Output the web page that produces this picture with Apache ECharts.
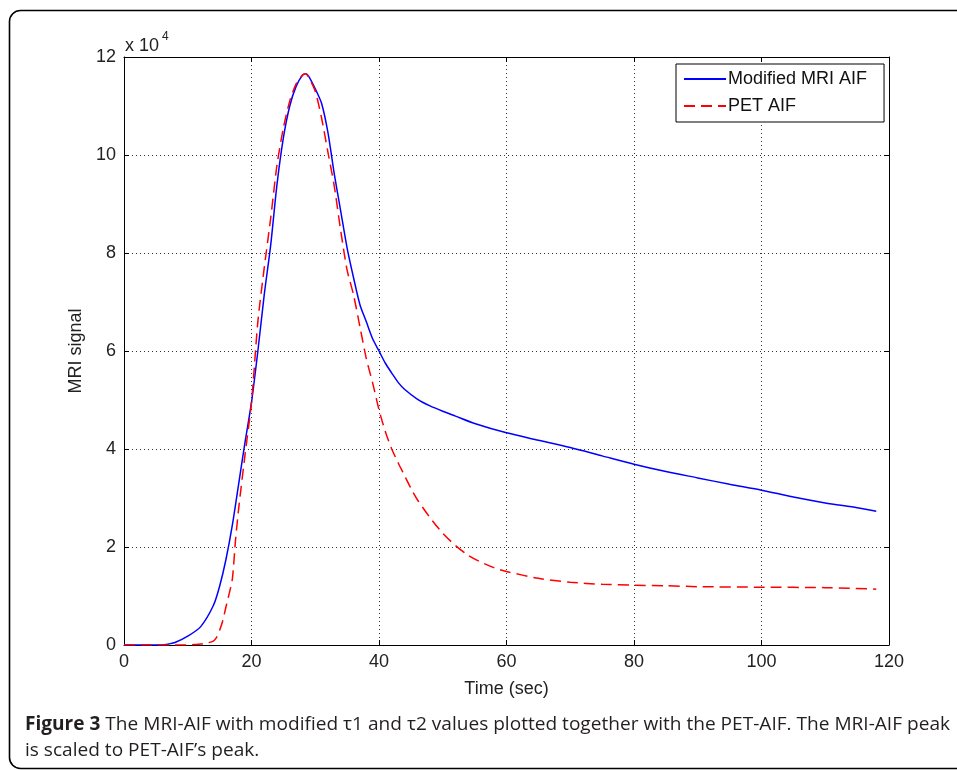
<!DOCTYPE html>
<html>
<head>
<meta charset="utf-8">
<script src="https://cdn.jsdelivr.net/npm/echarts@6/dist/echarts.min.js"></script>
<style>
  html, body { margin: 0; padding: 0; background: #fff; }
  #chart { width: 957px; height: 770px; }
</style>
</head>
<body>
<div id="chart"></div>
<script>
// Modified MRI arterial input function (signal in units of 10^4)
const mriTime = [0, 2, 4, 6, 7, 8, 10, 12, 14, 15, 16, 17, 18, 19, 20, 21, 22, 23, 24, 25, 26, 27, 28, 28.5, 29, 30, 31, 32, 33, 34, 35, 36, 37, 38, 39, 40, 41, 42, 43, 44, 46, 48, 50, 52, 55, 60, 65, 70, 75, 80, 85, 90, 95, 100, 105, 110, 115, 118];
const mriSignal = [0, 0, 0, 0, 0.02, 0.05, 0.18, 0.37, 0.8, 1.2, 1.75, 2.45, 3.3, 4.15, 4.95, 6.0, 7.15, 8.15, 9.4, 10.35, 11.0, 11.4, 11.63, 11.66, 11.6, 11.35, 11.05, 10.45, 9.6, 8.85, 8.1, 7.5, 6.95, 6.6, 6.25, 6.0, 5.75, 5.55, 5.36, 5.22, 5.02, 4.88, 4.77, 4.67, 4.52, 4.33, 4.18, 4.03, 3.86, 3.69, 3.54, 3.41, 3.28, 3.16, 3.02, 2.9, 2.8, 2.73];

// PET arterial input function (signal in units of 10^4)
const petTime = [0, 2, 4, 6, 8, 10, 11, 12, 13, 14, 14.5, 15, 15.5, 16, 16.5, 17, 17.5, 18, 19, 20, 21, 22, 23, 24, 25, 26, 27, 28, 28.5, 29, 30, 31, 32, 33, 34, 35, 36, 37, 38, 39, 40, 41, 42, 43, 44, 45, 46, 48, 50, 52, 54, 56, 58, 60, 65, 70, 75, 80, 85, 90, 100, 110, 118];
const petSignal = [0, 0, 0, 0, 0, 0, 0.01, 0.02, 0.04, 0.08, 0.15, 0.3, 0.5, 0.78, 1.05, 1.35, 2.15, 2.8, 3.9, 4.95, 6.6, 7.7, 8.7, 9.8, 10.55, 11.1, 11.45, 11.63, 11.66, 11.58, 11.3, 10.75, 10.05, 9.35, 8.45, 7.65, 7.15, 6.5, 5.85, 5.35, 4.8, 4.35, 4.0, 3.72, 3.46, 3.2, 2.97, 2.6, 2.28, 2.03, 1.83, 1.69, 1.58, 1.5, 1.36, 1.28, 1.24, 1.22, 1.21, 1.19, 1.18, 1.17, 1.14];

const seriesNames = ['Modified MRI AIF', 'PET AIF'];
const xAxisTitle = 'Time (sec)';
const yAxisTitle = 'MRI signal';
const captionBold = 'Figure 3';
const captionLine1 = ' The MRI-AIF with modified \u03c41 and \u03c42 values plotted together with the PET-AIF. The MRI-AIF peak';
const captionLine2 = 'is scaled to PET-AIF\u2019s peak.';

const pairs = (xs, ys) => xs.map((x, i) => [x, ys[i]]);

const FONT = '"Liberation Sans", Arial, sans-serif';
const CAP_FONT = '"Open Sans", "Noto Sans", sans-serif';
const CAP_SIZE = 19;

// condense the caption so its first line spans the frame width
const ctx = document.createElement('canvas').getContext('2d');
ctx.font = 'bold ' + CAP_SIZE + 'px "Open Sans"';
let capW = ctx.measureText(captionBold).width;
ctx.font = CAP_SIZE + 'px "Open Sans"';
capW += ctx.measureText(captionLine1).width;
const capScale = 925 / capW;

const gridDots = { show: true, lineStyle: { color: '#333', width: 1, type: [1, 3] } };
const frameLine = { show: true, onZero: false, lineStyle: { color: '#000', width: 1 } };
const innerTick = { show: true, inside: true, length: 5, lineStyle: { color: '#000', width: 1 } };
const tickText = { color: '#222', fontFamily: FONT, fontSize: 18 };

const chart = echarts.init(document.getElementById('chart'), null, { renderer: 'canvas' });
chart.setOption({
  animation: false,
  backgroundColor: '#fff',
  grid: { left: 124, right: 68, top: 57, bottom: 125, containLabel: false },
  xAxis: [
    {
      type: 'value', min: 0, max: 120, interval: 20, position: 'bottom',
      axisLine: frameLine, axisTick: innerTick, splitLine: gridDots,
      axisLabel: Object.assign({ margin: 8 }, tickText),
      name: xAxisTitle, nameLocation: 'middle', nameGap: 35,
      nameTextStyle: { color: '#222', fontFamily: FONT, fontSize: 18 }
    },
    {
      type: 'value', min: 0, max: 120, interval: 20, position: 'top',
      axisLine: frameLine, axisTick: innerTick, splitLine: { show: false },
      axisLabel: { show: false }
    }
  ],
  yAxis: [
    {
      type: 'value', min: 0, max: 12, interval: 2, position: 'left',
      axisLine: frameLine, axisTick: innerTick, splitLine: gridDots,
      axisLabel: Object.assign({ margin: 8 }, tickText),
      name: yAxisTitle, nameLocation: 'middle', nameGap: 37, nameRotate: 90,
      nameTextStyle: { color: '#222', fontFamily: FONT, fontSize: 18 }
    },
    {
      type: 'value', min: 0, max: 12, interval: 2, position: 'right',
      axisLine: frameLine, axisTick: innerTick, splitLine: { show: false },
      axisLabel: { show: false }
    }
  ],
  legend: {
    orient: 'vertical', left: 676, top: 64,
    padding: [5, 17, 6, 7], itemGap: 7,
    itemWidth: 42, itemHeight: 20,
    itemStyle: { opacity: 0 },
    backgroundColor: '#fff', borderColor: '#000', borderWidth: 1, borderRadius: 0,
    textStyle: { color: '#111', fontFamily: FONT, fontSize: 18, lineHeight: 20, padding: [0, 0, 0, -3] },
    data: seriesNames
  },
  series: [
    {
      name: seriesNames[0], type: 'line', xAxisIndex: 0, yAxisIndex: 0,
      data: pairs(mriTime, mriSignal), symbol: 'none', smooth: 0.25,
      lineStyle: { color: '#0000ff', width: 1.5 }, itemStyle: { color: '#0000ff' }, z: 3
    },
    {
      name: seriesNames[1], type: 'line', xAxisIndex: 0, yAxisIndex: 0,
      data: pairs(petTime, petSignal), symbol: 'none', smooth: 0.25,
      lineStyle: { color: '#ff0000', width: 1.5, type: [11, 6] }, itemStyle: { color: '#ff0000' }, z: 4
    }
  ],
  graphic: [
    {
      type: 'rect', left: 7, top: 8, silent: true, z: -1,
      shape: { width: 980, height: 758, r: 11 },
      style: { fill: 'none', stroke: '#000', lineWidth: 1.6 }
    },
    {
      type: 'text', left: 125, top: 37,
      style: { text: 'x 10', fill: '#222', font: '18px ' + FONT }
    },
    {
      type: 'text', left: 162, top: 31,
      style: { text: '4', fill: '#222', font: '12px ' + FONT }
    },
    {
      type: 'text', x: 25, y: 715, scaleX: capScale,
      style: {
        text: '{b|' + captionBold + '}' + captionLine1,
        fill: '#231f20', fontFamily: CAP_FONT, fontSize: CAP_SIZE,
        rich: { b: { fontWeight: 'bold', fontFamily: CAP_FONT, fontSize: CAP_SIZE, fill: '#231f20' } }
      }
    },
    {
      type: 'text', x: 25, y: 741, scaleX: capScale,
      style: { text: captionLine2, fill: '#231f20', fontFamily: CAP_FONT, fontSize: CAP_SIZE }
    }
  ]
});
</script>
</body>
</html>
